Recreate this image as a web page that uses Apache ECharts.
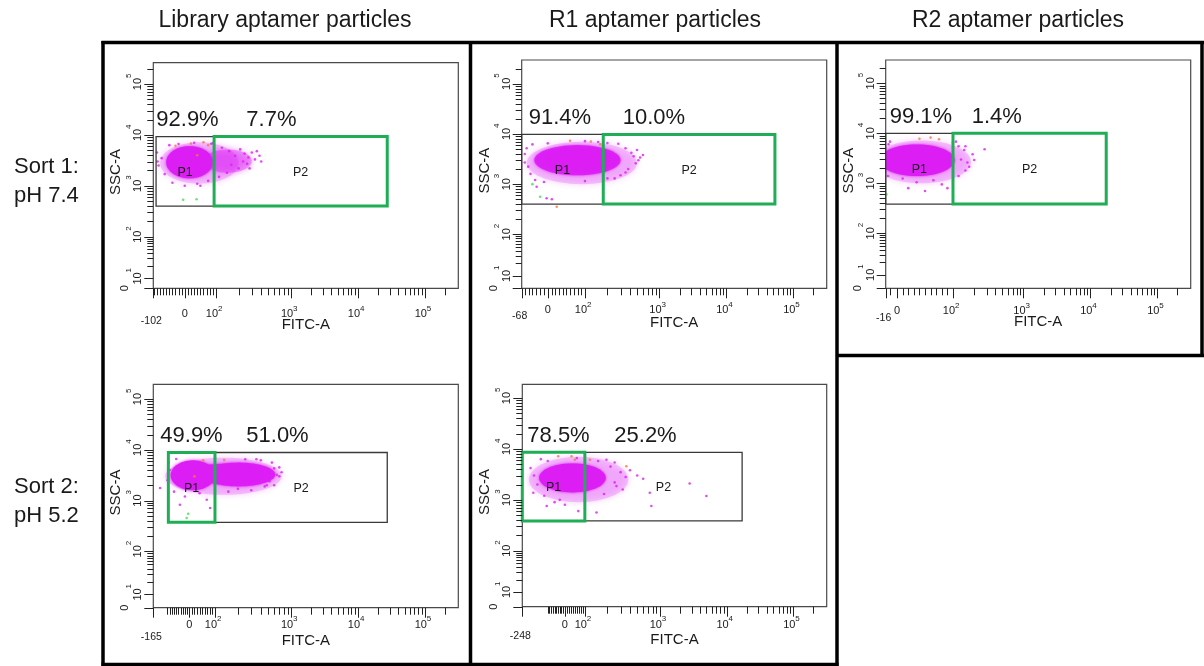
<!DOCTYPE html>
<html><head><meta charset="utf-8">
<script src="https://cdn.jsdelivr.net/npm/echarts@6/dist/echarts.min.js"></script>
<style>html,body{margin:0;padding:0;background:#fff}#c{width:1204px;height:666px}</style>
</head><body><div id="c"></div><script>
// ================= DATA =================
const columnTitles = ['Library aptamer particles', 'R1 aptamer particles', 'R2 aptamer particles'];
const rowLabels = [['Sort 1:', 'pH 7.4'], ['Sort 2:', 'pH 5.2']];
const panelNames = ['Library / Sort 1', 'R1 / Sort 1', 'R2 / Sort 1', 'Library / Sort 2', 'R1 / Sort 2'];
const axisNames = ['FITC-A', 'SSC-A'];
const xMinValues = [-102, -68, -16, -165, -248];
const xDecadeExponents = [2, 3, 4, 5];
const yDecadeExponents = [1, 2, 3, 4, 5];
const gateNames = ['P1', 'P2'];
const p1Percents = ['92.9%', '91.4%', '99.1%', '49.9%', '78.5%'];
const p2Percents = ['7.7%', '10.0%', '1.4%', '51.0%', '25.2%'];
// gates: [FITC low, FITC high, SSC low, SSC high]
const gatesP1 = [[-93, 94, 400, 9300], [-68, 176, 400, 9800], [-16, 100, 385, 10000], [-96, 100, 372, 8850], [-248, 100, 385, 8590]];
const gatesP2 = [[94, 27400, 400, 9300], [176, 53200, 400, 9800], [100, 17260, 385, 10000], [100, 27400, 372, 8850], [100, 17100, 385, 8590]];
const sortedGates = ['P2', 'P2', 'P2', 'P1', 'P1'];
// event-cloud density regions: [FITC low, FITC high, SSC low, SSC high, relative density]
const libSort1Cloud = [[-80, 200, 1100, 7200, 0.22], [60, 300, 1800, 5200, 0.4], [-60, 90, 1400, 6000, 1]];
const r1Sort1Cloud = [[-55, 500, 1000, 7000, 0.22], [-35, 300, 1500, 6000, 0.9], [0, 200, 2000, 5000, 1]];
const r2Sort1Cloud = [[-35, 180, 1000, 7200, 0.22], [-25, 105, 1400, 6000, 1]];
const libSort2Cloud = [[-110, 750, 1300, 7000, 0.22], [-85, 100, 1600, 6200, 1], [50, 620, 1900, 5600, 0.95], [-50, 400, 2200, 5200, 1]];
const r1Sort2Cloud = [[-210, 380, 900, 7000, 0.22], [-150, 190, 1400, 5200, 1]];
// individual sparse events [FITC, SSC]
const libSort1Events = [[120,5600],[150,4800],[180,3900],[210,5200],[240,4300],[270,3600],[300,4500],[330,3300],[380,3900],[160,2600],[200,2200],[230,3000],[140,1800],[260,2700],[110,1500],[-75,3500],[-85,2500],[-65,1700],[-40,1150],[0,1000],[40,1100],[75,1250],[-20,6600],[30,7000],[85,6700],[-90,4500],[-88,3000],[90,6900],[50,1000],[-50,6300],[350,4800],[400,3000],[280,2200]];
const r1Sort1Events = [[-51,2230],[-29,889],[-3,522],[11,499],[-33,1210],[550,3400],[480,2600],[420,4200],[380,2000],[350,5200],[300,1500],[520,3000],[450,3600],[0,6500],[100,7200],[150,6900],[-45,1600],[-60,2700],[250,1300],[200,6600],[-60,4000],[-55,5200],[600,3800],[500,4800],[-40,6200],[280,6400],[350,1700],[200,1300],[100,1150],[-10,1100]];
const r2Sort1Events = [[144,4630],[200,2925],[170,2150],[281,4790],[190,3800],[150,1800],[20,800],[50,700],[80,950],[35,1050],[65,1150],[10,1250],[120,5500],[100,6500],[-10,6800],[130,3000],[-12,6000],[-14,2000],[-13,1400],[110,6800],[150,5500],[160,2600],[120,1400],[90,800]];
const libSort2Events = [[-134,1766],[-43,828],[68,1040],[81,713],[650,3200],[700,3000],[560,5600],[480,2000],[400,6200],[300,1600],[250,6500],[520,2400],[-100,2500],[-90,4000],[600,4300],[150,1500],[-20,1200],[40,1400],[-95,5600],[-70,1500],[700,4500],[750,3600],[350,6500],[100,6800],[200,1700],[450,1900],[600,2000],[-60,6600]];
const r1Sort2Events = [[2800,2090],[4980,1190],[771,757],[735,1380],[264,1860],[194,6150],[143,562],[67,600],[-106,757],[-184,1380],[-180,3000],[-160,2000],[-120,1200],[-60,900],[0,800],[100,1000],[180,1300],[220,4500],[300,3500],[350,2800],[400,3800],[250,2200],[150,5800],[-100,5800],[500,3000],[600,2600],[-200,4200],[-140,6300],[60,6600],[250,5400],[320,1600],[-30,1000]];
const libSort1Orange = [[20,6800],[60,7200],[75,6300],[-30,6100],[40,4000]];
const r1Sort1Orange = [[24,355],[60,7300],[120,7100],[160,6200]];
const r2Sort1Orange = [[40,7800],[60,8200],[75,7600],[100,5000]];
const libSort2Orange = [[54,6200],[132,6300],[20,3000]];
const r1Sort2Orange = [[-39,7160],[33,7160],[50,6150],[117,6150],[358,4570]];
const libSort1Green = [[-5,530],[38,545]];
const r1Sort1Green = [[-20,560],[-40,1000]];
const r2Sort1Green = [[-15,600]];
const libSort2Green = [[-5,551],[-12,454]];
const r1Sort2Green = [];

const clouds = [libSort1Cloud, r1Sort1Cloud, r2Sort1Cloud, libSort2Cloud, r1Sort2Cloud];
const events = [libSort1Events, r1Sort1Events, r2Sort1Events, libSort2Events, r1Sort2Events];
const orangeEvents = [libSort1Orange, r1Sort1Orange, r2Sort1Orange, libSort2Orange, r1Sort2Orange];
const greenEvents = [libSort1Green, r1Sort1Green, r2Sort1Green, libSort2Green, r1Sort2Green];

// ================= LAYOUT / SCALES =================
const FONT = '"Liberation Sans", Arial, sans-serif';
const MAGENTA = '#dc1ef5', ORANGE = '#f27a3c', GREEN_DOT = '#44dd55';
const GATE_GREEN = '#1fae55', GATE_BLACK = '#3a3a3a', TICK = '#222', TXT = '#1a1a1a';
const gridRects = [[153.3, 62.7, 305, 225.6], [521.7, 60, 305, 228.3], [885.7, 60, 305, 228.3], [153.3, 384.3, 305, 223.4], [522.3, 384.3, 304.4, 222.4]];
const X_LEFT = 0.94, X_RIGHT = 5.5;
const xScale = [{d0: 1.41, d100: 1.877}, {d0: 1.33, d100: 1.886}, {d0: 1.11, d100: 1.946}, {d0: 1.478, d100: 1.862}, {d0: 1.578, d100: 1.877}];
const yScale = [{min: 0.985, max: 5.42, d10: 1.18}, {min: 0.923, max: 5.475, d10: 1.17}, {min: 0.9, max: 5.466, d10: 1.17}, {min: 0.89, max: 5.29, d10: 1.15}, {min: 0.9, max: 5.27, d10: 1.19}];
const xLabelDy = [26, 22, 23, 17, 18], minLabelDy = [33, 28, 30, 29, 29], xNameDy = [37, 35, 34, 33, 33];
const pctOffsets = [[3, 93], [7, 101], [4, 86], [7, 93], [5, 92]];

function fx(p, v) {
  const s = xScale[p];
  if (v >= 1000) return Math.log10(v);
  if (v >= 100) return s.d100 + (3 - s.d100) * Math.log10(v / 100);
  if (v >= 0) return s.d0 + (s.d100 - s.d0) * v / 100;
  return s.d0 + (s.d0 - X_LEFT) * v / Math.abs(xMinValues[p]);
}
function fy(p, v) {
  const s = yScale[p];
  if (v >= 100) return Math.log10(v);
  if (v >= 10) return s.d10 + (2 - s.d10) * Math.log10(v / 10);
  if (v > 0) return s.min + (s.d10 - s.min) * v / 10;
  return s.min;
}
function buildXTicks(p) {
  const list = [{d: X_LEFT, major: true, kind: 'min'}];
  for (let v = -100; v < 100; v += 10) {
    if (v <= xMinValues[p]) continue;
    if (v === 0) list.push({d: fx(p, 0), major: true, kind: 'zero'});
    else list.push({d: fx(p, v), major: false});
  }
  for (const e of xDecadeExponents) {
    list.push({d: fx(p, Math.pow(10, e)), major: true, kind: 'exp', exp: e});
    for (let k = 2; k <= 9; k++) { const d = fx(p, k * Math.pow(10, e)); if (d < X_RIGHT - 0.04) list.push({d, major: false}); }
  }
  return list;
}
function buildYTicks(p) {
  const s = yScale[p];
  const list = [{d: s.min, major: true, kind: 'zero'}];
  for (const e of yDecadeExponents) {
    list.push({d: fy(p, Math.pow(10, e)), major: true, kind: 'exp', exp: e});
    for (let k = 2; k <= 9; k++) { const d = fy(p, k * Math.pow(10, e)); if (d < s.max - 0.03) list.push({d, major: false}); }
  }
  return list;
}
const crisp = v => Math.round(v) + 0.5;
function txt(text, x, y, size, align, vAlign) {
  return {type: 'text', x, y, style: {text, fill: TXT, fontSize: size, fontFamily: FONT, align: align || 'center', verticalAlign: vAlign || 'middle'}};
}

const chart = echarts.init(document.getElementById('c'), null, {renderer: 'canvas', width: 1204, height: 666});
const grids = [], xAxes = [], yAxes = [], series = [];
gridRects.forEach((r, p) => {
  grids.push({left: r[0], top: r[1], width: r[2], height: r[3], show: true, borderColor: '#4a4a4a', borderWidth: 1.2, backgroundColor: '#fff'});
  xAxes.push({type: 'value', gridIndex: p, min: X_LEFT, max: X_RIGHT, show: false});
  yAxes.push({type: 'value', gridIndex: p, min: yScale[p].min, max: yScale[p].max, show: false});
  // event cloud
  series.push({
    type: 'custom', name: panelNames[p] + ' cloud', xAxisIndex: p, yAxisIndex: p, silent: true, clip: true, z: 2,
    data: clouds[p].map(b => [fx(p, b[0]), fx(p, b[1]), fy(p, b[2]), fy(p, b[3]), b[4]]),
    renderItem: (params, api) => {
      const a = api.coord([api.value(0), api.value(3)]);
      const b = api.coord([api.value(1), api.value(2)]);
      const cx = (a[0] + b[0]) / 2, cy = (a[1] + b[1]) / 2, rx = Math.abs(b[0] - a[0]) / 2, ry = Math.abs(b[1] - a[1]) / 2;
      const pts = [];
      for (let i = 0; i < 60; i++) { const t = i / 60 * Math.PI * 2; pts.push([cx + rx * Math.cos(t), cy + ry * Math.sin(t)]); }
      const dens = api.value(4);
      return {type: 'polygon', shape: {points: pts}, style: {fill: MAGENTA, opacity: dens, shadowBlur: dens < 0.6 ? 6 : 3, shadowColor: MAGENTA}};
    }
  });
  const dotSeries = (data, color, name) => ({
    type: 'scatter', name, xAxisIndex: p, yAxisIndex: p, silent: true, z: 3, symbolSize: 2.6,
    itemStyle: {color}, data: data.map(e => [fx(p, e[0]), fy(p, e[1])])
  });
  series.push(dotSeries(events[p], MAGENTA, panelNames[p] + ' events'));
  series.push(dotSeries(orangeEvents[p], ORANGE, panelNames[p] + ' orange'));
  series.push(dotSeries(greenEvents[p], GREEN_DOT, panelNames[p] + ' green'));
  // gates
  const gates = [gatesP1[p], gatesP2[p]];
  const pcts = [p1Percents[p], p2Percents[p]];
  series.push({
    type: 'custom', name: panelNames[p] + ' gates', xAxisIndex: p, yAxisIndex: p, silent: true, clip: false, z: 4,
    data: gates.map(g => [fx(p, g[0]), fx(p, g[1]), fy(p, g[2]), fy(p, g[3])]),
    renderItem: (params, api) => {
      const i = params.dataIndex;
      const a = api.coord([api.value(0), api.value(3)]);
      const b = api.coord([api.value(1), api.value(2)]);
      const sel = sortedGates[p] === gateNames[i];
      const left = api.coord([X_LEFT, yScale[p].min])[0];
      const children = [
        {type: 'rect', z2: sel ? 10 : 1, shape: {x: a[0], y: a[1], width: b[0] - a[0], height: b[1] - a[1]},
         style: {fill: null, stroke: sel ? GATE_GREEN : GATE_BLACK, lineWidth: sel ? 3 : 1.3}},
        txt(gateNames[i], (a[0] + b[0]) / 2, (a[1] + b[1]) / 2 + 1, 12.5),
        txt(pcts[i], left + pctOffsets[p][i], a[1] - 16.5, 22, 'left')
      ];
      return {type: 'group', children};
    }
  });
  // axes decorations (ticks, labels, names)
  series.push({
    type: 'custom', name: panelNames[p] + ' axes', xAxisIndex: p, yAxisIndex: p, silent: true, clip: false, z: 5,
    data: [[X_LEFT, yScale[p].min]],
    renderItem: (params, api) => {
      const s = yScale[p];
      const o = api.coord([X_LEFT, s.min]);
      const tr = api.coord([X_RIGHT, s.max]);
      const L = o[0], B = o[1], R = tr[0], T = tr[1];
      const ch = [];
      buildXTicks(p).forEach(t => {
        const px = api.coord([t.d, s.min])[0];
        const cx = crisp(px);
        ch.push({type: 'line', shape: {x1: cx, y1: B, x2: cx, y2: B + (t.major ? 10 : 7)}, style: {stroke: TICK, lineWidth: 1}});
        if (t.kind === 'min') ch.push(txt(String(xMinValues[p]), px - 2, B + minLabelDy[p], 10.5));
        else if (t.kind === 'zero') ch.push(txt('0', px, B + xLabelDy[p], 11));
        else if (t.kind === 'exp') {
          ch.push(txt('10', px - 4, B + xLabelDy[p], 11));
          ch.push(txt(String(t.exp), px + 2, B + xLabelDy[p] - 6, 8, 'left'));
        }
      });
      buildYTicks(p).forEach(t => {
        const py = api.coord([X_LEFT, t.d])[1];
        const cy = crisp(py);
        ch.push({type: 'line', shape: {x1: L, y1: cy, x2: L - (t.major ? 9 : 6), y2: cy}, style: {stroke: TICK, lineWidth: 1}});
        if (t.kind === 'zero') ch.push({type: 'group', x: L - 28, y: py, rotation: Math.PI / 2, children: [txt('0', 0, 0, 11)]});
        else if (t.kind === 'exp') ch.push({type: 'group', x: L - 15, y: py, rotation: Math.PI / 2, children: [
          txt('10', 0, 0, 11),
          txt(String(t.exp), 6, -9.5, 8, 'left')
        ]});
      });
      ch.push(txt(axisNames[0], (L + R) / 2, B + xNameDy[p], 15));
      ch.push({type: 'group', x: L - 37, y: (T + B) / 2 - 3.5, rotation: Math.PI / 2, children: [txt(axisNames[1], 0, 0, 15)]});
      return {type: 'group', children: ch};
    }
  });
});

// titles, row labels, frames
const graphic = [];
const titleX = [285, 655, 1018];
columnTitles.forEach((t, i) => graphic.push({type: 'text', x: titleX[i], y: 21, style: {text: t, fontSize: 23, fontFamily: FONT, fill: TXT, align: 'center', verticalAlign: 'middle'}}));
const rowY = [166.7, 486.7];
rowLabels.forEach((lines, r) => lines.forEach((l, j) => graphic.push({type: 'text', x: 14, y: rowY[r] + j * 28.8, style: {text: l, fontSize: 22, fontFamily: FONT, fill: TXT, align: 'left', verticalAlign: 'middle'}})));
const frameLines = [
  [101.5, 42.5, 1204, 42.5], [103, 41, 103, 666], [470.5, 41, 470.5, 666], [837, 41, 837, 666],
  [1202, 41, 1202, 357], [837, 355.5, 1204, 355.5], [101.5, 664.5, 838.5, 664.5]
];
frameLines.forEach(l => graphic.push({type: 'line', shape: {x1: l[0], y1: l[1], x2: l[2], y2: l[3]}, style: {stroke: '#000', lineWidth: 3.5}, z: 100}));

chart.setOption({
  animation: false,
  backgroundColor: '#fff',
  grid: grids, xAxis: xAxes, yAxis: yAxes, series, graphic
});
</script></body></html>
